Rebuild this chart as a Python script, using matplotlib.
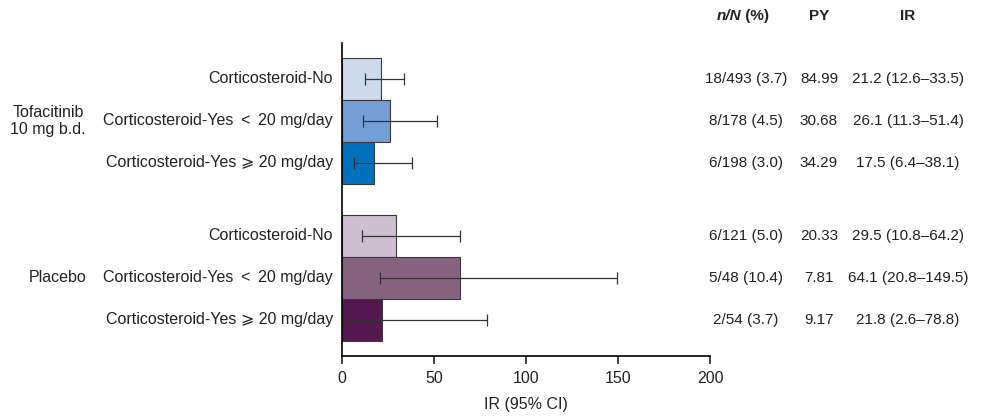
import matplotlib.pyplot as plt
import matplotlib.transforms as mtransforms

plt.rcParams['font.family'] = ['Liberation Sans', 'DejaVu Sans']

groups = ['Tofacitinib\n10 mg b.d.', 'Placebo']
categories = ['Corticosteroid-No', 'Corticosteroid-Yes \u2009<\u2009 20 mg/day',
              'Corticosteroid-Yes \u2a7e 20 mg/day']
ir_tofa = [21.2, 26.1, 17.5]
lo_tofa = [12.6, 11.3, 6.4]
hi_tofa = [33.5, 51.4, 38.1]
ir_pbo = [29.5, 64.1, 21.8]
lo_pbo = [10.8, 20.8, 2.6]
hi_pbo = [64.2, 149.5, 78.8]
nN_tofa = ['18/493 (3.7)', '8/178 (4.5)', '6/198 (3.0)']
nN_pbo = ['6/121 (5.0)', '5/48 (10.4)', '2/54 (3.7)']
py_tofa = ['84.99', '30.68', '34.29']
py_pbo = ['20.33', '7.81', '9.17']
irtxt_tofa = ['21.2 (12.6\u201333.5)', '26.1 (11.3\u201351.4)', '17.5 (6.4\u201338.1)']
irtxt_pbo = ['29.5 (10.8\u201364.2)', '64.1 (20.8\u2013149.5)', '21.8 (2.6\u201378.8)']

colors_tofa = ['#cdd9ef', '#739fd6', '#0071bc']
colors_pbo = ['#cdbfd0', '#86647f', '#54184e']

fig = plt.figure(figsize=(9.82, 4.19), dpi=100)
ax = fig.add_axes([342 / 982, 63 / 419, 368 / 982, 313 / 419])

# y layout: each bar is 1 unit tall, gap between groups
pbo_y = [2.857, 1.857, 0.857]
tofa_y = [6.595, 5.595, 4.595]

for ys, vals, lo, hi, cols in [(tofa_y, ir_tofa, lo_tofa, hi_tofa, colors_tofa),
                               (pbo_y, ir_pbo, lo_pbo, hi_pbo, colors_pbo)]:
    ax.barh(ys, vals, height=1.0, color=cols, edgecolor='#3a3a3a', linewidth=0.8, zorder=2)
    xerr = [[v - l for v, l in zip(vals, lo)], [h - v for v, h in zip(vals, hi)]]
    ax.errorbar(vals, ys, xerr=xerr, fmt='none', ecolor='#333333', elinewidth=0.9,
                capsize=4, capthick=0.9, zorder=3)

ax.set_xlim(0, 200)
ax.set_ylim(0, 7.45)
ax.set_xticks([0, 50, 100, 150, 200])
ax.set_yticks([])
ax.spines['top'].set_visible(False)
ax.spines['right'].set_visible(False)
ax.spines['left'].set_linewidth(1.2)
ax.spines['bottom'].set_linewidth(1.2)
ax.tick_params(axis='x', length=6, width=1.2, labelsize=11.5, pad=5, colors='#222222')
ax.set_xlabel('IR (95% CI)', fontsize=11.5, labelpad=8, color='#222222')

fs = 11.5
fs_tab = 11
trans_lab = mtransforms.blended_transform_factory(fig.transFigure, ax.transData)
for ys in (tofa_y, pbo_y):
    for y, c in zip(ys, categories):
        ax.text(333 / 982, y, c, transform=trans_lab, ha='right', va='center',
                fontsize=fs, color='#222222')

ax.text(86 / 982, tofa_y[1], groups[0], transform=trans_lab, ha='right', va='center',
        multialignment='center', fontsize=fs, color='#222222', linespacing=1.1)
ax.text(86 / 982, pbo_y[1], groups[1], transform=trans_lab, ha='right', va='center',
        fontsize=fs, color='#222222')

col_x = [746 / 982, 819 / 982, 908 / 982]
for ys, a, b, c in [(tofa_y, nN_tofa, py_tofa, irtxt_tofa), (pbo_y, nN_pbo, py_pbo, irtxt_pbo)]:
    for i, y in enumerate(ys):
        for x, t in zip(col_x, (a[i], b[i], c[i])):
            ax.text(x, y, t, transform=trans_lab, ha='center', va='center',
                    fontsize=fs_tab, color='#222222')

hy = 1 - 16 / 419
fig.text(col_x[0] - 5 / 982, hy, 'n/N', ha='right', va='center', fontsize=fs_tab,
         fontweight='bold', style='italic', color='#222222')
fig.text(col_x[0] - 5 / 982, hy, ' (%)', ha='left', va='center', fontsize=fs_tab,
         fontweight='bold', color='#222222')
fig.text(col_x[1], hy, 'PY', ha='center', va='center', fontsize=fs_tab,
         fontweight='bold', color='#222222')
fig.text(col_x[2], hy, 'IR', ha='center', va='center', fontsize=fs_tab,
         fontweight='bold', color='#222222')

fig.savefig('out.png', dpi=100)
